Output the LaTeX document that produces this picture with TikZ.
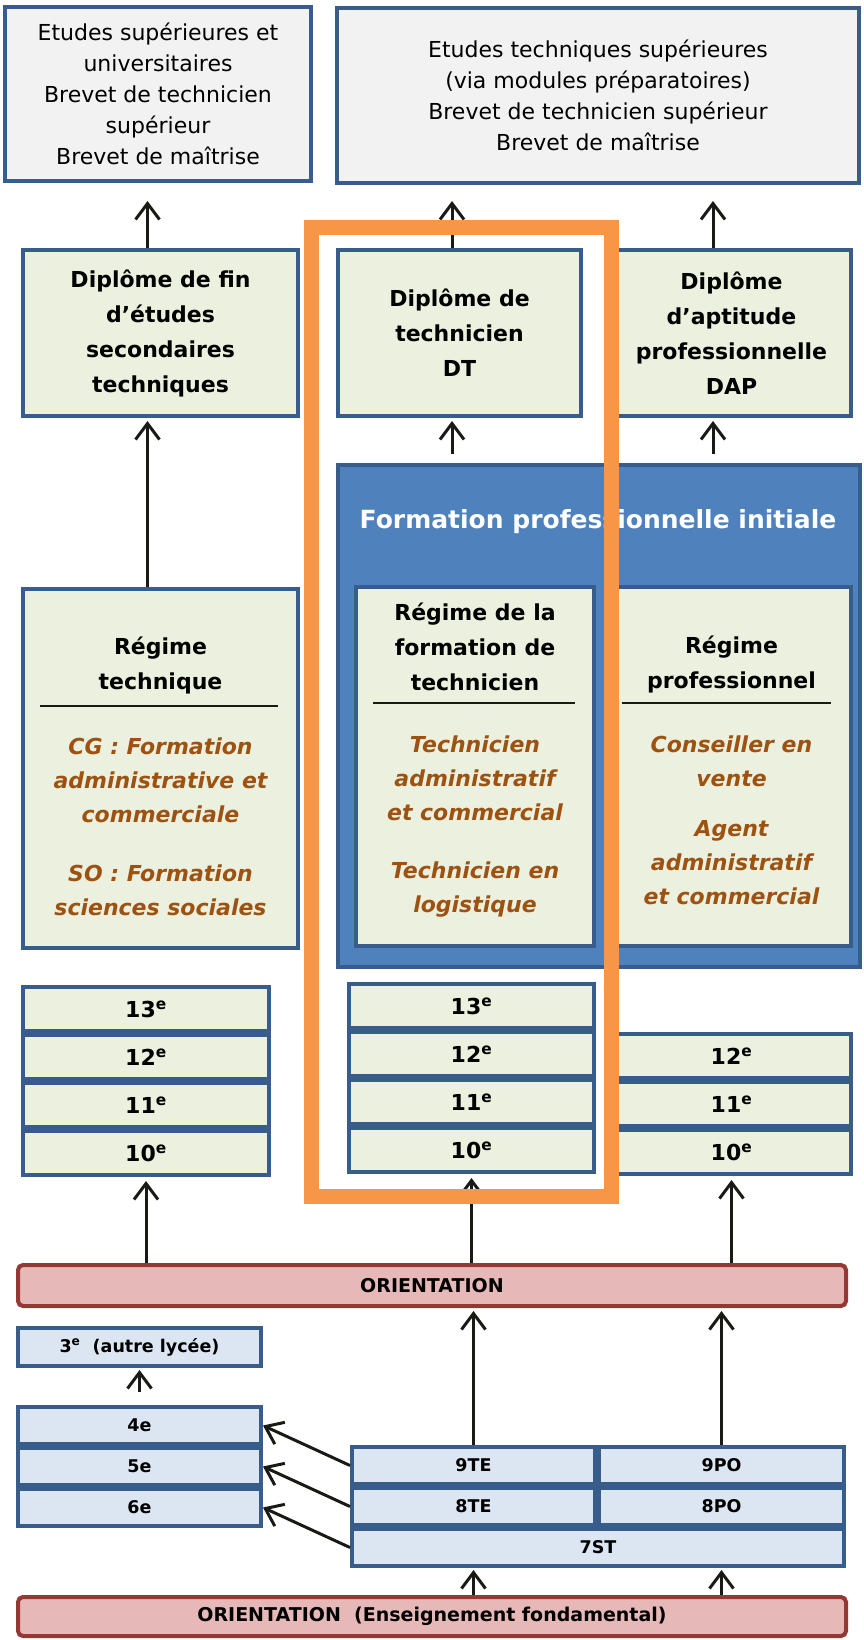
\documentclass[tikz,border=0pt]{standalone}
\usepackage{fontspec}
\setmainfont{DejaVu Sans}
\usetikzlibrary{arrows.meta}
\definecolor{bordblue}{RGB}{56,93,138}
\definecolor{greyfill}{RGB}{242,242,242}
\definecolor{greenfill}{RGB}{235,241,222}
\definecolor{bluefill}{RGB}{220,230,242}
\definecolor{fpiblue}{RGB}{79,129,189}
\definecolor{pinkfill}{RGB}{230,185,184}
\definecolor{darkred}{RGB}{149,55,53}
\definecolor{browntxt}{RGB}{158,82,18}
\definecolor{orangebar}{RGB}{247,150,70}
\definecolor{arrowblack}{RGB}{26,26,20}

\begin{document}
\begin{tikzpicture}[x=1pt,y=-1pt,
  box/.style={draw=bordblue,line width=4pt,inner sep=0pt,align=center,text=black},
  topbox/.style={box,fill=greyfill,font=\fontsize{22}{31}\selectfont},
  greenbox/.style={box,fill=greenfill,font=\fontsize{22}{35}\selectfont\bfseries},
  gradebox/.style={box,fill=greenfill,minimum height=44pt,font=\fontsize{22}{26}\selectfont\bfseries},
  smallbox/.style={box,fill=bluefill,minimum height=37pt,font=\fontsize{17.5}{20}\selectfont\bfseries},
  orientbox/.style={draw=darkred,fill=pinkfill,line width=4pt,rounded corners=5pt,inner sep=0pt,minimum width=828pt,font=\fontsize{19}{22}\selectfont\bfseries},
  headtxt/.style={align=center,inner sep=0pt,font=\fontsize{22}{35}\selectfont\bfseries},
  itxt/.style={align=center,inner sep=0pt,text=browntxt,font=\fontsize{22}{34}\selectfont\bfseries\itshape},
  arr/.style={draw=arrowblack,line width=3pt,-{Straight Barb[length=16pt,width=24pt]}},
  rule/.style={draw=arrowblack,line width=2.5pt}]
\useasboundingbox (0,0) rectangle (863,1640);
\coordinate (colL) at (147.5,0);
\coordinate (colM) at (452,0);
\coordinate (colR) at (713,0);

\draw (158,94) node[topbox,minimum width=306pt,minimum height=174pt](etsup) {Etudes supérieures et\\universitaires\\Brevet de technicien\\supérieur\\Brevet de maîtrise};
\draw (598,95.5) node[topbox,minimum width=522pt,minimum height=175pt](ettech) {Etudes techniques supérieures\\(via modules préparatoires)\\Brevet de technicien supérieur\\Brevet de maîtrise};

\draw (160.5,333) node[greenbox,minimum width=275pt,minimum height=166pt](dipfin) {Diplôme de fin\\d’études\\secondaires\\techniques};
\draw (459.5,333) node[greenbox,minimum width=243pt,minimum height=166pt](dipdt) {Diplôme de\\technicien\\DT};
\draw (731.5,333) node[greenbox,minimum width=239pt,minimum height=166pt](dipdap) {Diplôme\\d’aptitude\\professionnelle\\DAP};

\draw (599,716) node[box,fill=fpiblue,minimum width=522pt,minimum height=502pt](fpi) {};
\draw (598,522) node[headtxt,text=white,font=\fontsize{25}{28}\selectfont\bfseries](fpititle) {Formation professionnelle initiale};

\draw (160.5,768.5) node[greenbox,minimum width=275pt,minimum height=359pt](regtech) {};
\draw (475,766.5) node[greenbox,minimum width=238pt,minimum height=359pt](regdt) {};
\draw (731.5,766.5) node[greenbox,minimum width=239pt,minimum height=359pt](regpro) {};
\draw (160.5,665.5) node[headtxt](regtechhead) {Régime\\technique};
\draw (475,646.5) node[headtxt](regdthead) {Régime de la\\formation de\\technicien};
\draw (731.5,664) node[headtxt](regprohead) {Régime\\professionnel};
\draw[rule] (40,706) -- (278,706);
\draw[rule] (373,703) -- (575,703);
\draw[rule] (622,703) -- (831,703);
\draw (160.5,780.7) node[itxt](cg) {CG : Formation\\administrative et\\commerciale};
\draw (160.5,890.5) node[itxt](so) {SO : Formation\\sciences sociales};
\draw (475,778.7) node[itxt](techadm) {Technicien\\administratif\\et commercial};
\draw (475,889.5) node[itxt](techlog) {Technicien en\\logistique};
\draw (731.5,761.5) node[itxt](conseil) {Conseiller en\\vente};
\draw (731.5,863) node[itxt](agent) {Agent\\administratif\\et commercial};

\draw (146,1009) node[gradebox,minimum width=246pt](lthirteen) {13\textsuperscript{e}};
\draw (146,1057) node[gradebox,minimum width=246pt](ltwelve) {12\textsuperscript{e}};
\draw (146,1105) node[gradebox,minimum width=246pt](leleven) {11\textsuperscript{e}};
\draw (146,1153) node[gradebox,minimum width=246pt](lten) {10\textsuperscript{e}};
\draw (471.5,1006) node[gradebox,minimum width=245pt](mthirteen) {13\textsuperscript{e}};
\draw (471.5,1054) node[gradebox,minimum width=245pt](mtwelve) {12\textsuperscript{e}};
\draw (471.5,1102) node[gradebox,minimum width=245pt](meleven) {11\textsuperscript{e}};
\draw (471.5,1150) node[gradebox,minimum width=245pt](mten) {10\textsuperscript{e}};
\draw (731.5,1056) node[gradebox,minimum width=239pt](rtwelve) {12\textsuperscript{e}};
\draw (731.5,1104) node[gradebox,minimum width=239pt](releven) {11\textsuperscript{e}};
\draw (731.5,1152) node[gradebox,minimum width=239pt](rten) {10\textsuperscript{e}};

\draw (432,1285.5) node[orientbox,minimum height=41pt](orient) {ORIENTATION};
\draw (139.5,1347) node[smallbox,minimum width=243pt,minimum height=38pt](trois) {3\textsuperscript{e}\ \ (autre lycée)};
\draw (139.5,1425.5) node[smallbox,minimum width=243pt](quatre) {4e};
\draw (139.5,1466.5) node[smallbox,minimum width=243pt](cinq) {5e};
\draw (139.5,1507.5) node[smallbox,minimum width=243pt](six) {6e};
\draw (473.5,1465.5) node[smallbox,minimum width=243pt](neufte) {9TE};
\draw (721.5,1465.5) node[smallbox,minimum width=245pt](neufpo) {9PO};
\draw (473.5,1506.5) node[smallbox,minimum width=243pt](huitte) {8TE};
\draw (721.5,1506.5) node[smallbox,minimum width=245pt](huitpo) {8PO};
\draw (598,1547.5) node[smallbox,minimum width=492pt](septst) {7ST};
\draw (432,1616.5) node[orientbox,minimum height=39pt](fond) {ORIENTATION\ \ (Enseignement fondamental)};

\draw[arr,shorten >=18pt] (dipfin.north -| colL) -- (etsup.south -| colL);
\draw[arr,shorten >=16pt] (dipdt.north -| colM) -- (ettech.south -| colM);
\draw[arr,shorten >=16pt] (dipdap.north -| colR) -- (ettech.south -| colR);
\draw[arr,shorten >=3pt] (regtech.north -| colL) -- (dipfin.south -| colL);
\draw[arr,shorten <=9pt,shorten >=3pt] (fpi.north -| colM) -- (dipdt.south -| colM);
\draw[arr,shorten <=9pt,shorten >=3pt] (fpi.north -| colR) -- (dipdap.south -| colR);
\draw[arr,shorten >=4pt] (orient.north -| lten.south) -- (lten.south);
\draw[arr,shorten >=4pt] (orient.north -| mten.south) -- (mten.south);
\draw[arr,shorten >=4pt] (orient.north -| rten.south) -- (rten.south);
\draw[arr,shorten >=3pt] (neufte.north) -- (orient.south -| neufte.north);
\draw[arr,shorten >=3pt] (neufpo.north) -- (orient.south -| neufpo.north);
\draw[arr,shorten >=2pt] (fond.north -| neufte.south) -- (septst.south -| neufte.south);
\draw[arr,shorten >=2pt] (fond.north -| neufpo.south) -- (septst.south -| neufpo.south);
\draw[arr,shorten <=13pt,shorten >=2pt] (quatre.north) -- (trois.south);
\draw[arr] (neufte.west) -- (quatre.east);
\draw[arr] (huitte.west) -- (cinq.east);
\draw[arr] (septst.west) -- (six.east);

\draw[draw=orangebar,line width=15pt] (311.5,227) rectangle (611.5,1196);
\end{tikzpicture}
\end{document}
